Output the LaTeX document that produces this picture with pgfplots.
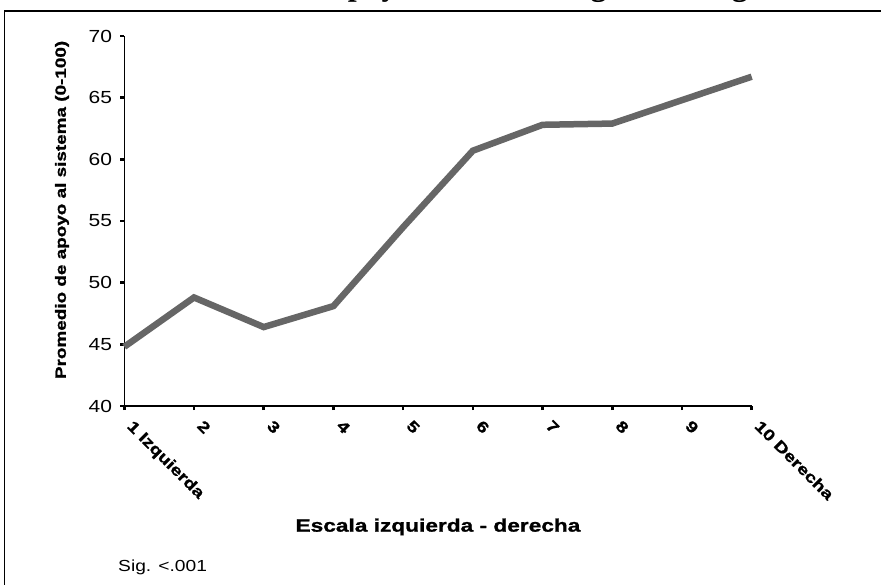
\documentclass[border=0pt]{standalone}
\usepackage{pgfplots}
\pgfplotsset{compat=1.18}
\usepackage{fontspec}
\setmainfont{Liberation Sans}
\newfontfamily\rfont{Liberation Sans}[FakeStretch=1.2]
\newfontfamily\bfont{Liberation Sans}[FakeStretch=1.26, BoldFeatures={FakeBold=1.2}]
\newfontfamily\tfont{Liberation Serif}
\definecolor{lg}{HTML}{666666}
\begin{document}
\begin{tikzpicture}[x=1pt,y=1pt]
\useasboundingbox (0,0) rectangle (881,584);
\draw[line width=1.4pt] (4.7,-5) -- (4.7,573) -- (890,573);
\node[anchor=base west, inner sep=0pt, font=\tfont\bfseries\fontsize{32}{36}\selectfont] at (151,588) {Promedio de apoyo al sistema según ideología};
\begin{axis}[
  at={(124.3pt,178pt)}, anchor=south west,
  scale only axis, width=627.4pt, height=370pt,
  xmin=1, xmax=10, ymin=40, ymax=70,
  clip=false,
  axis lines*=left,
  axis line style={line width=1.3pt, black},
  xtick={1,2,3,4,5,6,7,8,9,10},
  xticklabels={1 Izquierda,2,3,4,5,6,7,8,9,10 Derecha},
  ytick={40,45,50,55,60,65,70},
  tick align=outside,
  major tick length=4pt,
  tick style={black, line width=2.6pt},
  /pgf/number format/assume math mode=true,
  yticklabel style={font=\rfont\fontsize{17.5}{19}\selectfont, anchor=east, inner sep=0pt, xshift=-8pt},
  xticklabel style={font=\bfont\bfseries\fontsize{15.5}{18}\selectfont, inner sep=0pt, xshift=10pt, yshift=-9pt, rotate=-45, anchor=north west},
  xlabel={Escala izquierda - derecha},
  xlabel style={at={(axis description cs:0.5,-0.327)}, anchor=center, inner sep=0pt, font=\bfont\bfseries\fontsize{18}{20}\selectfont},
  ylabel={Promedio de apoyo al sistema (0-100)},
  ylabel style={at={(axis description cs:-0.0993,0.53)}, anchor=center, inner sep=0pt, font=\bfont\bfseries\fontsize{15}{17}\selectfont},
]
\addplot[color=lg, line width=6.5pt] coordinates {
(1,44.8) (2,48.8) (3,46.4) (4,48.1) (5,54.5) (6,60.7) (7,62.8) (8,62.9) (9,64.8) (10,66.7)
};
\end{axis}
\node[anchor=base west, inner sep=0pt, font=\rfont\fontsize{16}{18}\selectfont] at (118,13) {Sig. <.001};
\end{tikzpicture}
\end{document}
